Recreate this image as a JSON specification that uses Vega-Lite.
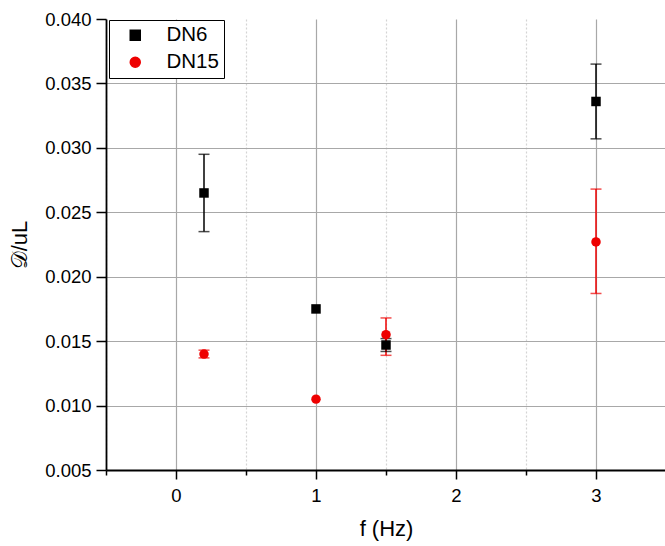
{
  "$schema": "https://vega.github.io/schema/vega-lite/v6.json",
  "width": 560,
  "height": 451,
  "autosize": "none",
  "padding": {"left": 106, "top": 19, "right": 0, "bottom": 76},
  "config": {
    "font": "Liberation Sans",
    "view": {"stroke": null},
    "axis": {"domainColor": "#000000", "domainWidth": 1.8, "tickColor": "#000000", "tickWidth": 1.5, "labelColor": "#000000", "titleColor": "#000000", "labelFont": "Liberation Sans", "titleFont": "Liberation Sans", "titleFontWeight": "normal", "labelFontSize": 18.5, "titleFontSize": 22}
  },
  "data": {
    "values": [
      {"series": "DN6", "f": 0.2, "v": 0.0265, "lo": 0.0235, "hi": 0.0295},
      {"series": "DN6", "f": 1.0, "v": 0.0175, "lo": null, "hi": null},
      {"series": "DN6", "f": 1.5, "v": 0.0147, "lo": 0.0142, "hi": 0.0152},
      {"series": "DN6", "f": 3.0, "v": 0.0336, "lo": 0.0307, "hi": 0.0365},
      {"series": "DN15", "f": 0.2, "v": 0.0140, "lo": 0.0137, "hi": 0.0143},
      {"series": "DN15", "f": 1.0, "v": 0.0105, "lo": null, "hi": null},
      {"series": "DN15", "f": 1.5, "v": 0.0155, "lo": 0.0139, "hi": 0.0168},
      {"series": "DN15", "f": 3.0, "v": 0.0227, "lo": 0.0187, "hi": 0.0268}
    ]
  },
  "encoding": {
    "x": {
      "field": "f", "type": "quantitative",
      "scale": {"domain": [-0.5, 3.5], "nice": false, "zero": false},
      "axis": {
        "title": "f (Hz)",
        "values": [-0.5, 0, 0.5, 1, 1.5, 2, 2.5, 3, 3.5],
        "labelExpr": "abs(datum.value - round(datum.value)) < 1e-6 ? format(datum.value, 'd') : ''",
        "tickSize": {"condition": {"test": "abs(datum.value - round(datum.value)) < 1e-6", "value": 9}, "value": 5},
        "grid": true,
        "gridColor": {"condition": {"test": "abs(datum.value - round(datum.value)) < 1e-6", "value": "#a8a8a8"}, "value": "#d4d4d4"},
        "gridDash": {"condition": {"test": "abs(datum.value - round(datum.value)) < 1e-6", "value": []}, "value": [2, 2]},
        "gridWidth": 1.2,
        "labelPadding": 7,
        "titlePadding": 14
      }
    },
    "color": {
      "field": "series", "type": "nominal",
      "scale": {"domain": ["DN6", "DN15"], "range": ["#000000", "#ee0000"]},
      "legend": {
        "title": null,
        "orient": "none",
        "legendX": 3,
        "legendY": 1,
        "strokeColor": "#000000",
        "fillColor": "#ffffff",
        "padding": 5,
        "labelFontSize": 20.5,
        "labelFont": "Liberation Sans",
        "labelColor": "#000000",
        "symbolSize": 100,
        "symbolOpacity": 1,
        "symbolOffset": 11,
        "labelOffset": 21,
        "rowPadding": 6
      }
    }
  },
  "layer": [
    {
      "mark": {"type": "rule", "strokeWidth": 1.5},
      "encoding": {
        "y": {
          "field": "lo", "type": "quantitative",
          "scale": {"domain": [0.005, 0.04], "nice": false, "zero": false},
          "axis": {
            "title": "𝒟/uL",
            "values": [0.005, 0.0075, 0.01, 0.0125, 0.015, 0.0175, 0.02, 0.0225, 0.025, 0.0275, 0.03, 0.0325, 0.035, 0.0375, 0.04],
            "labelExpr": "abs(datum.value*200 - round(datum.value*200)) < 1e-6 ? format(datum.value, '.3f') : ''",
            "tickSize": {"condition": {"test": "abs(datum.value*200 - round(datum.value*200)) < 1e-6", "value": 10}, "value": 6},
            "grid": true,
            "gridColor": {"condition": {"test": "abs(datum.value*200 - round(datum.value*200)) < 1e-6", "value": "#a8a8a8"}, "value": "#d4d4d4"},
            "gridDash": {"condition": {"test": "abs(datum.value*200 - round(datum.value*200)) < 1e-6", "value": []}, "value": [2, 2]},
            "gridOpacity": {"condition": {"test": "datum.value > 0.0399", "value": 0}, "value": 1},
            "gridWidth": 1.2,
            "labelPadding": 5,
            "titlePadding": 13
          }
        },
        "y2": {"field": "hi"}
      }
    },
    {
      "mark": {"type": "tick", "orient": "horizontal", "size": 11, "thickness": 1.5},
      "encoding": {"y": {"field": "lo", "type": "quantitative", "title": "𝒟/uL"}}
    },
    {
      "mark": {"type": "tick", "orient": "horizontal", "size": 11, "thickness": 1.5},
      "encoding": {"y": {"field": "hi", "type": "quantitative", "title": "𝒟/uL"}}
    },
    {
      "mark": {"type": "point", "filled": true, "opacity": 1},
      "encoding": {
        "y": {"field": "v", "type": "quantitative", "title": "𝒟/uL"},
        "shape": {
          "field": "series", "type": "nominal",
          "scale": {"domain": ["DN6", "DN15"], "range": ["square", "circle"]}
        },
        "size": {"value": 90}
      }
    }
  ]
}
